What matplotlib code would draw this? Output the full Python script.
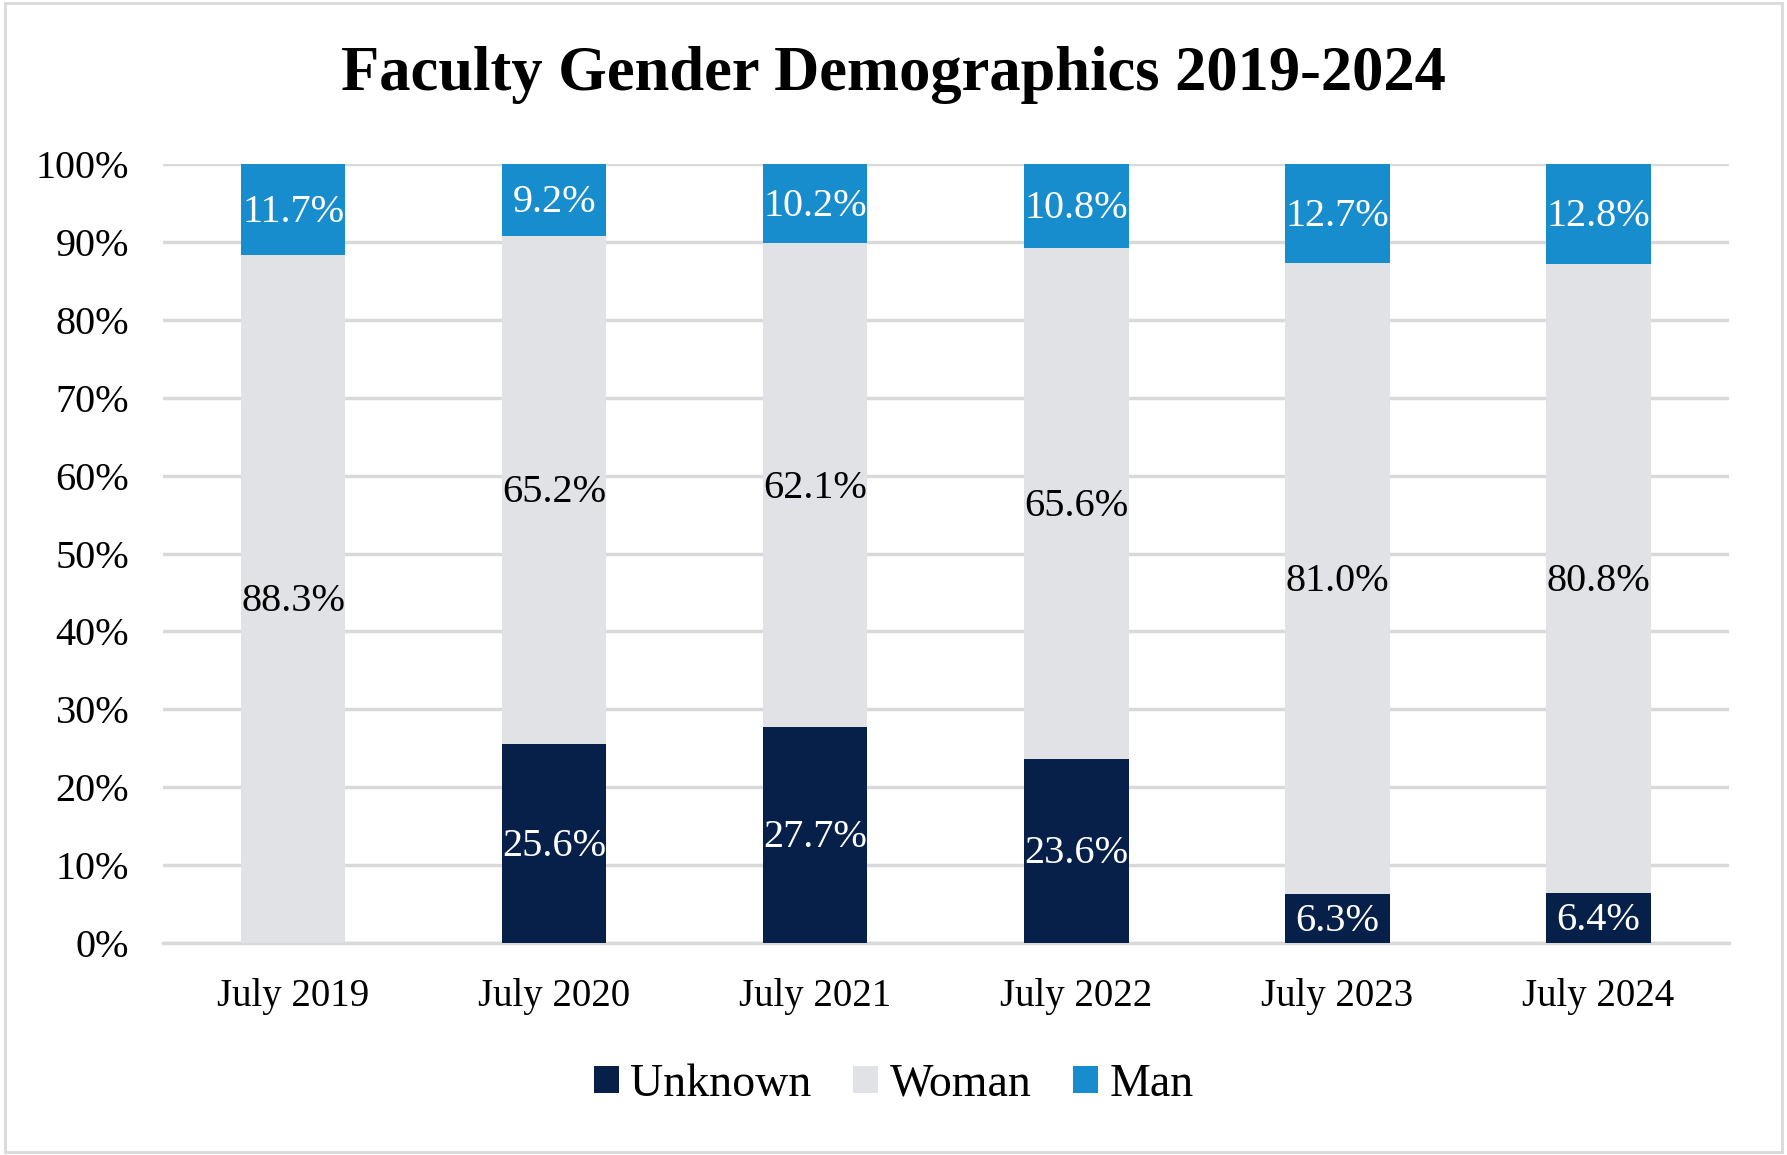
import numpy as np
import matplotlib.pyplot as plt
from matplotlib.patches import Rectangle
from matplotlib.ticker import PercentFormatter

plt.rcParams['font.family'] = ['Liberation Serif', 'DejaVu Serif']

years = ["July 2019", "July 2020", "July 2021", "July 2022", "July 2023", "July 2024"]
unknown = [0.0, 25.6, 27.7, 23.6, 6.3, 6.4]
woman = [88.3, 65.2, 62.1, 65.6, 81.0, 80.8]
man = [11.7, 9.2, 10.2, 10.8, 12.7, 12.8]

c_unknown = '#06204a'
c_woman = '#e1e2e6'
c_man = '#188dcd'

fig = plt.figure(figsize=(17.87, 11.55), dpi=100)
ax = fig.add_axes([0.091, 0.1835, 0.8765, 0.6745])

# outer chart border
fig.patches.append(Rectangle((0.003, 0.003), 0.994, 0.994, transform=fig.transFigure,
                             fill=False, edgecolor='#d9d9d9', linewidth=2))

x = np.arange(len(years))
w = 0.4
u = np.array(unknown)
wo = np.array(woman)
m = np.array(man)

ax.bar(x, u, w, color=c_unknown, label='Unknown', zorder=3)
ax.bar(x, wo, w, bottom=u, color=c_woman, label='Woman', zorder=3)
ax.bar(x, m, w, bottom=u + wo, color=c_man, label='Man', zorder=3)

fs = 29
dy = -0.35  # small downward nudge of labels
for i in range(len(years)):
    if u[i] > 0:
        ax.text(x[i], u[i] / 2 + dy, f"{u[i]:.1f}%", ha='center', va='center',
                color='white', fontsize=fs, zorder=4)
    ax.text(x[i], u[i] + wo[i] / 2 + dy, f"{wo[i]:.1f}%", ha='center', va='center',
            color='black', fontsize=fs, zorder=4)
    ax.text(x[i], u[i] + wo[i] + m[i] / 2 + dy, f"{m[i]:.1f}%", ha='center', va='center',
            color='white', fontsize=fs, zorder=4)

ax.set_xlim(-0.5, len(years) - 0.5)
ax.set_ylim(0, 100)
ax.set_yticks(np.arange(0, 101, 10))
ax.yaxis.set_major_formatter(PercentFormatter(decimals=0))
ax.set_xticks(x)
ax.set_xticklabels(years)
ax.tick_params(axis='both', length=0)
ax.tick_params(axis='y', labelsize=29, pad=24)
ax.tick_params(axis='x', labelsize=28, pad=25)
ax.grid(axis='y', color='#d9d9d9', linewidth=2.5, zorder=0)
for s in ['top', 'right', 'left']:
    ax.spines[s].set_visible(False)
ax.spines['bottom'].set_color('#d9d9d9')
ax.spines['bottom'].set_linewidth(2.5)

fig.text(0.5, 0.935, "Faculty Gender Demographics 2019-2024", ha='center', va='center',
         fontsize=45, fontweight='bold')

fig.legend(loc='center', bbox_to_anchor=(0.5, 0.061), ncol=3, frameon=False,
           fontsize=33, handlelength=0.55, handleheight=0.55, handletextpad=0.25,
           columnspacing=0.9)

fig.savefig('out.png', dpi=100)
